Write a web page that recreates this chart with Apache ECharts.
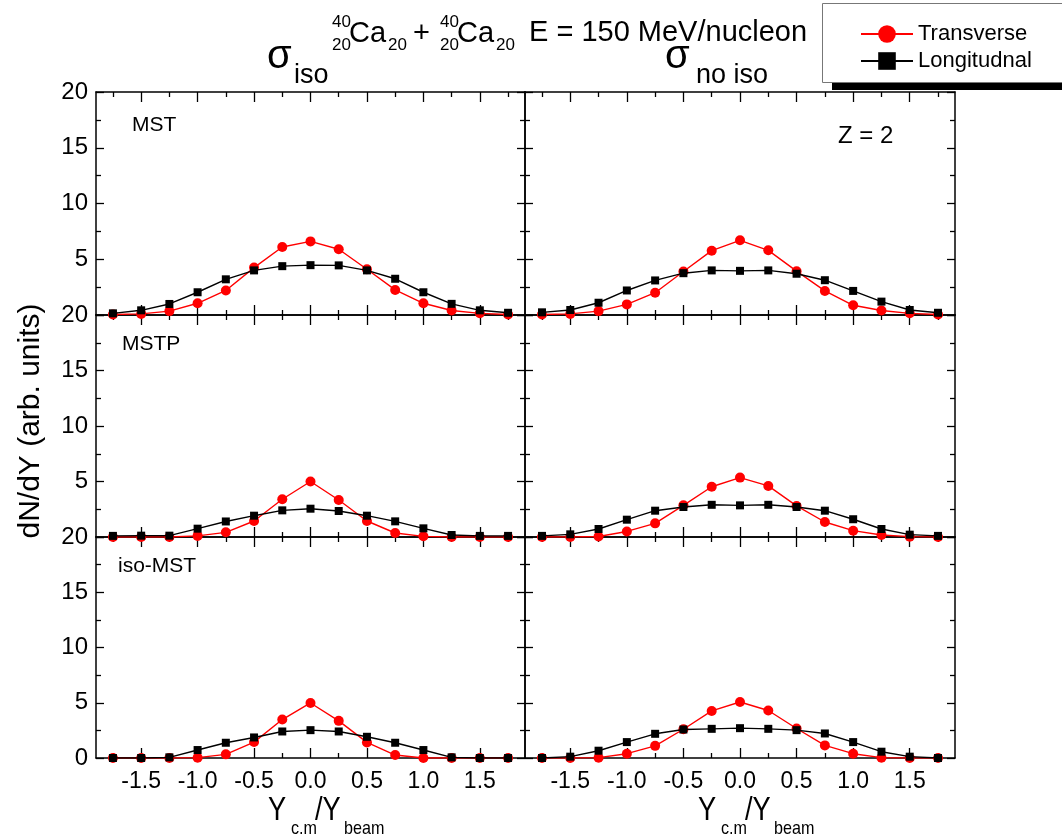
<!DOCTYPE html>
<html><head><meta charset="utf-8">
<script src="https://cdn.jsdelivr.net/npm/echarts@6/dist/echarts.min.js"></script>
<style>html,body{margin:0;padding:0;background:#fff}#c{width:1062px;height:839px}</style>
</head><body><div id="c"></div>
<script>
// ---- data ----
const rapidity = [-1.75,-1.5,-1.25,-1.0,-0.75,-0.5,-0.25,0,0.25,0.5,0.75,1.0,1.25,1.5,1.75];
const xTickLabels = [-1.5,-1.0,-0.5,0.0,0.5,1.0,1.5];
const xMinorTicks = [-1.75,-1.25,-0.75,-0.25,0.25,0.75,1.25,1.75];
const panelNames = ['MST','MSTP','iso-MST'];
const seriesNames = ['Transverse','Longitudnal'];

const mstIsoTransverse     = [0.05,0.1,0.35,1.05,2.2,4.25,6.1,6.6,5.9,4.1,2.25,1.05,0.4,0.15,0.05];
const mstIsoLongitudinal   = [0.15,0.42,0.99,2.04,3.2,4.0,4.38,4.47,4.45,4.0,3.25,2.04,1.0,0.42,0.2];
const mstNoIsoTransverse   = [0.05,0.1,0.35,0.95,2.0,3.9,5.77,6.7,5.8,3.93,2.16,0.87,0.4,0.15,0.05];
const mstNoIsoLongitudinal = [0.24,0.45,1.1,2.2,3.1,3.75,4.0,3.96,4.0,3.7,3.12,2.16,1.2,0.45,0.2];
const mstpIsoTransverse     = [0,0,0,0.1,0.42,1.44,3.4,5.0,3.33,1.44,0.36,0.06,0,0,0];
const mstpIsoLongitudinal   = [0.1,0.12,0.12,0.75,1.4,1.92,2.4,2.55,2.34,1.92,1.41,0.78,0.18,0.1,0.1];
const mstpNoIsoTransverse   = [0,0,0.05,0.5,1.23,2.85,4.53,5.35,4.6,2.8,1.35,0.57,0.18,0.03,0];
const mstpNoIsoLongitudinal = [0.1,0.24,0.72,1.56,2.37,2.7,2.9,2.85,2.9,2.7,2.37,1.6,0.72,0.21,0.1];
const isoMstIsoTransverse     = [0,0,0,0.03,0.33,1.44,3.48,4.98,3.36,1.41,0.27,0,0,0,0];
const isoMstIsoLongitudinal   = [0,0,0.06,0.72,1.38,1.86,2.4,2.52,2.4,1.92,1.38,0.72,0.06,0,0];
const isoMstNoIsoTransverse   = [0,0,0.03,0.39,1.1,2.6,4.26,5.07,4.3,2.67,1.14,0.39,0.03,0,0];
const isoMstNoIsoLongitudinal = [0,0.12,0.66,1.44,2.19,2.58,2.64,2.7,2.64,2.52,2.22,1.44,0.57,0.12,0];

const panels = [
  [mstIsoTransverse, mstIsoLongitudinal], [mstNoIsoTransverse, mstNoIsoLongitudinal],
  [mstpIsoTransverse, mstpIsoLongitudinal], [mstpNoIsoTransverse, mstpNoIsoLongitudinal],
  [isoMstIsoTransverse, isoMstIsoLongitudinal], [isoMstNoIsoTransverse, isoMstNoIsoLongitudinal]
];

// ---- layout ----
const colLeft = [96, 525], colWidth = [429, 430];
const rowTop = [92, 315, 537], rowHeight = [223, 222, 221];
const FF = '"Liberation Sans", Arial, sans-serif';
const RED = '#ff0000';

const grids = [], xAxes = [], yAxes = [], series = [];
const tickStyle = {color: '#000', width: 1.3};
panels.forEach((p, i) => {
  const row = Math.floor(i / 2), col = i % 2;
  grids.push({left: colLeft[col], top: rowTop[row], width: colWidth[col], height: rowHeight[row], outerBoundsMode: 'none'});
  const baseX = {type: 'value', gridIndex: i, min: -1.9, max: 1.9, splitLine: {show: false}};
  const line = {show: true, onZero: false, lineStyle: {color: '#000', width: 1.5}};
  const noLine = {show: false, onZero: false};
  xAxes.push(Object.assign({}, baseX, {position: 'bottom', axisLine: line,
    axisTick: {show: true, inside: true, length: 5, customValues: xMinorTicks, lineStyle: tickStyle},
    axisLabel: {show: row === 2, customValues: xTickLabels, formatter: v => Number(v).toFixed(1),
      color: '#000', fontSize: 23, fontFamily: FF, margin: 12}}));
  xAxes.push(Object.assign({}, baseX, {position: 'bottom', axisLine: noLine,
    axisTick: {show: true, inside: true, length: 10, customValues: xTickLabels, lineStyle: tickStyle},
    axisLabel: {show: false}}));
  xAxes.push(Object.assign({}, baseX, {position: 'top', axisLine: line,
    axisTick: {show: true, inside: true, length: 5, customValues: xMinorTicks, lineStyle: tickStyle},
    axisLabel: {show: false}}));
  xAxes.push(Object.assign({}, baseX, {position: 'top', axisLine: noLine,
    axisTick: {show: true, inside: true, length: 10, customValues: xTickLabels, lineStyle: tickStyle},
    axisLabel: {show: false}}));
  const baseY = {type: 'value', gridIndex: i, min: 0, max: 20, interval: 5, splitLine: {show: false},
    axisLine: line,
    axisTick: {show: true, inside: true, length: 8, lineStyle: tickStyle},
    minorTick: {show: true, splitNumber: 2, length: 5, lineStyle: tickStyle}};
  yAxes.push(Object.assign({}, baseY, {position: 'left',
    axisLabel: {show: col === 0, color: '#000', fontSize: 24, fontFamily: FF, margin: 8,
      formatter: v => (row < 2 && v === 0) ? '' : String(v)}}));
  yAxes.push(Object.assign({}, baseY, {position: 'right', axisLabel: {show: false}}));

  series.push({name: seriesNames[0], type: 'line', xAxisIndex: i * 4, yAxisIndex: i * 2,
    data: rapidity.map((x, k) => [x, p[0][k]]), symbol: 'circle', symbolSize: 10,
    itemStyle: {color: RED}, lineStyle: {color: RED, width: 1.4}, z: 2, animation: false});
  series.push({name: seriesNames[1], type: 'line', xAxisIndex: i * 4, yAxisIndex: i * 2,
    data: rapidity.map((x, k) => [x, p[1][k]]), symbol: 'rect', symbolSize: 8,
    itemStyle: {color: '#000'}, lineStyle: {color: '#000', width: 1.4}, z: 3, animation: false});
});

function txt(x, y, text, size, sx) {
  return {type: 'text', x: x, y: y, z: 10, scaleX: sx || 1,
    style: {text: text, fontSize: size, fontFamily: FF, fill: '#000', align: 'left', verticalAlign: 'middle'}};
}

const graphics = [
  {type: 'rect', z: 0, shape: {x: 832, y: 11, width: 262, height: 79}, style: {fill: '#000'}},
  {type: 'rect', z: 1, shape: {x: 822.5, y: 3.5, width: 262, height: 79},
    style: {fill: '#fff', stroke: '#777', lineWidth: 1}},
  // title
  txt(267, 57, 'σ', 40), txt(294, 76, 'iso', 27),
  txt(332, 22, '40', 17), txt(332, 45, '20', 17), txt(349, 34, 'Ca', 29), txt(388, 45, '20', 17),
  txt(413, 34, '+', 29),
  txt(440, 22, '40', 17), txt(440, 45, '20', 17), txt(457, 34, 'Ca', 29), txt(496, 45, '20', 17),
  txt(529, 33, 'E = 150 MeV/nucleon', 29),
  txt(665, 57, 'σ', 40), txt(696, 76, 'no iso', 27),
  // panel labels
  txt(132, 125, panelNames[0], 21), txt(122, 344, panelNames[1], 21), txt(118, 566, panelNames[2], 21),
  txt(838, 136, 'Z = 2', 24),
  // y-axis name
  {type: 'text', x: 31, y: 421, rotation: Math.PI / 2, z: 10,
    style: {text: 'dN/dY (arb. units)', fontSize: 30, fontFamily: FF, fill: '#000', align: 'center', verticalAlign: 'middle'}},
  // x-axis names
  txt(268, 811, 'Y', 34, 0.8), txt(291, 829, 'c.m', 19, 0.85), txt(315, 811, '/Y', 34, 0.8), txt(344, 829, 'beam', 19, 0.85),
  txt(698, 811, 'Y', 34, 0.8), txt(721, 829, 'c.m', 19, 0.85), txt(745, 811, '/Y', 34, 0.8), txt(774, 829, 'beam', 19, 0.85)
];

const chart = echarts.init(document.getElementById('c'), null, {renderer: 'canvas'});
chart.setOption({
  animation: false,
  backgroundColor: '#fff',
  grid: grids, xAxis: xAxes, yAxis: yAxes, series: series,
  legend: {data: seriesNames, orient: 'vertical', left: 855, top: 18, itemWidth: 52, itemHeight: 22, itemGap: 5,
    selectedMode: false, textStyle: {fontSize: 22, fontFamily: FF, color: '#000'}},
  graphic: graphics
});
</script></body></html>
